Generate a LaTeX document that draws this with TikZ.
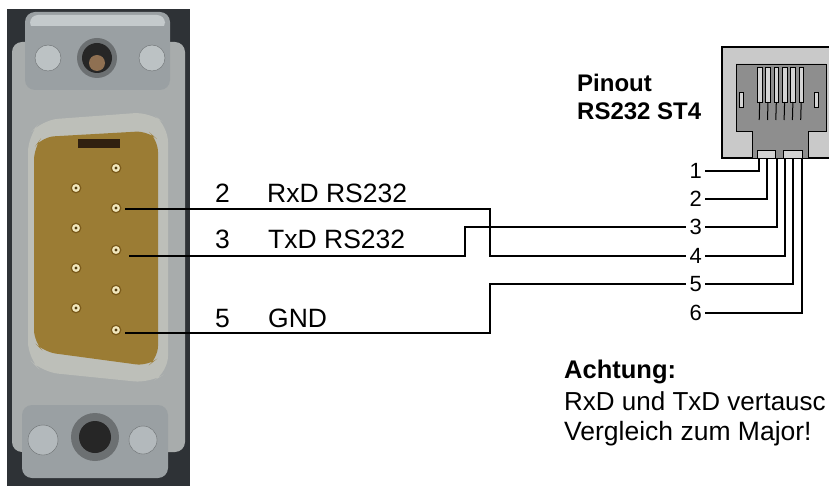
\documentclass[tikz,border=0pt]{standalone}
\usepackage{fontspec}
\setmainfont{Liberation Sans}
\begin{document}
\definecolor{photobg}{HTML}{2E3236}
\definecolor{plate}{HTML}{A8ACAC}
\definecolor{flange}{HTML}{9AA0A3}
\definecolor{flangehi}{HTML}{C4CACC}
\definecolor{shellrim}{HTML}{BDBFB9}
\definecolor{gold}{HTML}{9B7C34}
\definecolor{pinlight}{HTML}{F2E8BE}
\definecolor{pinring}{HTML}{7A5A1A}
\definecolor{jackout}{HTML}{C9C9C9}
\definecolor{jackin}{HTML}{8E8E8E}
\begin{tikzpicture}[x=1pt,y=-1pt,
  wire/.style={line width=1.9pt,black},
  lbl/.style={font=\fontsize{26.5}{31}\selectfont,anchor=base west,inner sep=0pt},
  boldlbl/.style={font=\bfseries\fontsize{24}{28}\selectfont,anchor=base west,inner sep=0pt},
  num/.style={font=\fontsize{22}{26}\selectfont,anchor=east,inner xsep=3pt,inner ysep=0pt},
  dbpin/.style={circle,minimum size=9.5pt,inner sep=0pt,fill=pinlight,draw=pinring,line width=1.2pt,
    path picture={\fill[pinring!70!black] (path picture bounding box.center) circle (1.6pt);}},
  contact/.style={fill=jackout!80!white,draw=black,line width=0.8pt}]
\useasboundingbox (0,0) rectangle (829,486);
% ---------- DB9 photo ----------
\fill[photobg] (7,9) rectangle (190,486);
\fill[plate,rounded corners=10] (12,42) rectangle (185,452);
% top flange
\fill[flange,rounded corners=10] (25,12) rectangle (170,90);
\fill[flangehi,rounded corners=8] (30,15) rectangle (165,30);
\fill[flange] (30,26) rectangle (165,34);
\fill[flangehi!80!flange,draw=flange!70!black] (48,58) circle (13);
\fill[flangehi!80!flange,draw=flange!70!black] (152,58) circle (13);
\fill[flange!70!black] (97,58) circle (20);
\fill[black!85] (97,58) circle (15);
\fill[brown!60!black!80!white] (97,63) circle (8);
% bottom flange
\fill[flange,rounded corners=10] (22,405) rectangle (168,478);
\fill[flangehi!60!flange,draw=flange!70!black] (43,440) circle (15);
\fill[flangehi!60!flange,draw=flange!70!black] (143,440) circle (14);
\fill[flange!70!black] (95,437) circle (24);
\fill[black!85] (95,437) circle (16);
% D shell
\fill[shellrim,rounded corners=16] (42,120) -- (150,112) -- (168,126) -- (168,372) -- (150,383) -- (42,372) -- (28,358) -- (28,136) -- cycle;
\fill[gold,rounded corners=12] (42,137) -- (148,131) -- (158,140) -- (158,358) -- (148,366) -- (44,352) -- (34,342) -- (34,148) -- cycle;
\fill[black!75!brown] (78,139) rectangle (120,148);
% pins
\node[dbpin] (p1) at (116,168) {};
\node[dbpin] (p2) at (116,208) {};
\node[dbpin] (p3) at (116,250) {};
\node[dbpin] (p4) at (116,290) {};
\node[dbpin] (p5) at (116,330) {};
\node[dbpin] (p6) at (76,188) {};
\node[dbpin] (p7) at (76,228) {};
\node[dbpin] (p8) at (76,268) {};
\node[dbpin] (p9) at (76,308) {};
% ---------- RJ jack ----------
\draw[fill=jackout,line width=1.5pt] (722,47) rectangle (845,158);
\draw[fill=jackin,line width=0.8pt] (736,64) -- (826,64) -- (826,131) -- (808,131) -- (808,158) -- (752,158) -- (752,131) -- (736,131) -- cycle;
\draw[contact] (757,150) rectangle (775,158);
\draw[contact] (783,150) rectangle (802,158);
\draw[contact] (739,92) rectangle (743,107);
\draw[contact] (814,92) rectangle (818,107);
\foreach \i in {0,...,5}{
  \draw[contact] ({757.5+8.3*\i},67) rectangle ({762+8.3*\i},102);
  \draw[line width=1pt] ({759.7+8.3*\i},102) -- ({759.2+8.3*\i},120);
}
\coordinate (c1) at (759,158);
\coordinate (c2) at (767,158);
\coordinate (c3) at (777,158);
\coordinate (c4) at (785,158);
\coordinate (c5) at (793,158);
\coordinate (c6) at (802,158);
% ---------- texts ----------
\node[boldlbl] (t1) at (577,92) {Pinout};
\node[boldlbl] (t2) at (577,120) {RS232 ST4};
\node[lbl] (n2) at (215,203) {2};
\node[lbl] (s2) at (267,203) {RxD RS232};
\node[lbl] (n3) at (215,248) {3};
\node[lbl] (s3) at (268,248) {TxD RS232};
\node[lbl] (n5) at (215,327) {5};
\node[lbl] (s5) at (268,327) {GND};
\node[boldlbl,font=\bfseries\fontsize{25.5}{30}\selectfont] (a1) at (564,378) {Achtung:};
\node[lbl,font=\fontsize{26}{31}\selectfont] (a2) at (564,410) {RxD und TxD vertausc};
\node[lbl] (a3) at (564,440) {Vergleich zum Major!};
% RJ pin numbers
\node[num] (r1) at (705,171) {1};
\node[num] (r2) at (705,199) {2};
\node[num] (r3) at (705,227) {3};
\node[num] (r4) at (705,256) {4};
\node[num] (r5) at (705,284) {5};
\node[num] (r6) at (705,313) {6};
% ---------- wires ----------
\coordinate (w2s) at (125,209);
\coordinate (w3s) at (129,256);
\coordinate (w5s) at (125,333);
\coordinate (j2) at (490,256);
\coordinate (j3) at (465,227);
\coordinate (j5) at (490,284);
\draw[wire] (w2s) -| (j2) |- (r4.west);
\draw[wire] (w3s) -| (j3) |- (r3.west);
\draw[wire] (w5s) -| (j5) |- (r5.west);
\draw[wire] (r1.east) -| (c1);
\draw[wire] (r2.east) -| (c2);
\draw[wire] (r3.east) -| (c3);
\draw[wire] (r4.east) -| (c4);
\draw[wire] (r5.east) -| (c5);
\draw[wire] (r6.east) -| (c6);
\end{tikzpicture}
\end{document}
